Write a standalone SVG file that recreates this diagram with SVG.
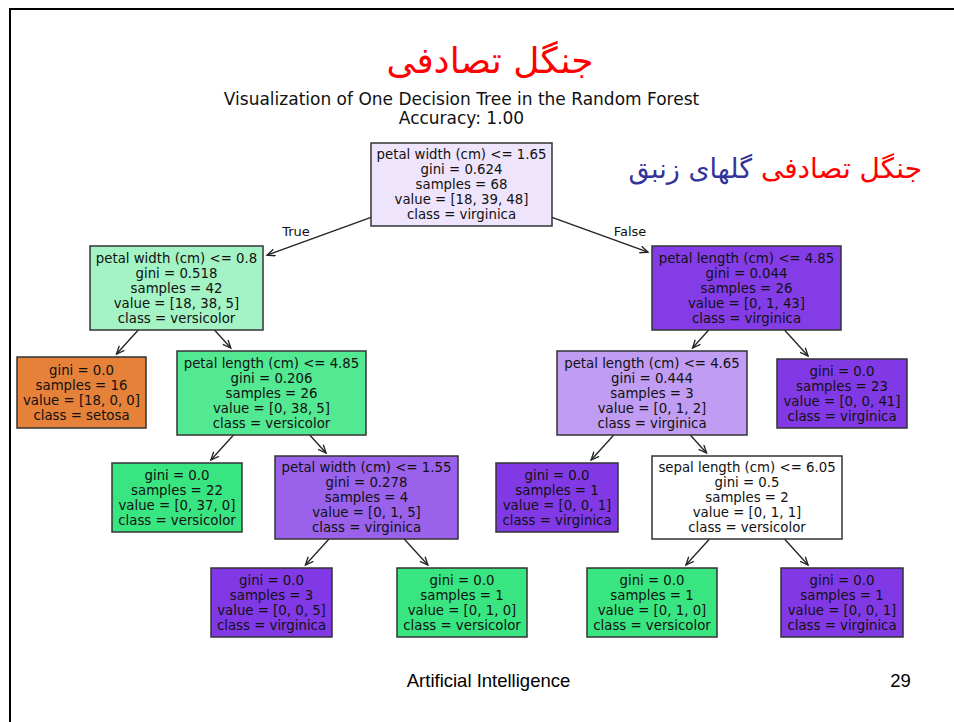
<svg xmlns="http://www.w3.org/2000/svg" width="954" height="722" viewBox="0 0 954 722">
<style>
.nt{font-family:"DejaVu Sans",sans-serif;font-size:13.3px;fill:#111;text-anchor:middle}
.box{stroke:#333;stroke-width:1.5}
.e{stroke:#222;stroke-width:1.3;fill:none}
.lbl{font-family:"DejaVu Sans",sans-serif;font-size:13px;fill:#111;text-anchor:middle}
.fa{font-family:"DejaVu Sans",sans-serif}
</style>
<defs>
<marker id="ah" markerUnits="userSpaceOnUse" markerWidth="12" markerHeight="10" refX="9" refY="4" orient="auto">
<path d="M1,0.5 L9,4 L1,7.5" fill="none" stroke="#222" stroke-width="1.3"/>
</marker>
</defs>
<rect width="954" height="722" fill="#fff"/>
<g id="frame">
<line x1="9" y1="9" x2="954" y2="9" stroke="#000" stroke-width="2"/>
<line x1="10" y1="8" x2="10" y2="722" stroke="#000" stroke-width="2"/>
</g>
<g id="titles">
<text x="490" y="73" class="fa" font-size="36" fill="#f00" text-anchor="middle" direction="rtl">جنگل تصادفی</text>
<text x="461.5" y="105" font-family="DejaVu Sans,sans-serif" font-size="17" fill="#111" text-anchor="middle">Visualization of One Decision Tree in the Random Forest</text>
<text x="461.5" y="124" font-family="DejaVu Sans,sans-serif" font-size="17" fill="#111" text-anchor="middle">Accuracy: 1.00</text>
<text x="922" y="178" class="fa" font-size="28" fill="#f00" text-anchor="start" direction="rtl">جنگل تصادفی</text>
<text x="752" y="178" class="fa" font-size="27" fill="#333399" text-anchor="start" direction="rtl">گلهای زنبق</text>
</g>
<g id="connectors">
<line class="e" x1="371" y1="217.4" x2="267" y2="255.2" marker-end="url(#ah)"/>
<line class="e" x1="552" y1="217.4" x2="648" y2="252.2" marker-end="url(#ah)"/>
<line class="e" x1="138.3" y1="330" x2="116.5" y2="354" marker-end="url(#ah)"/>
<line class="e" x1="214.5" y1="330" x2="230.8" y2="348" marker-end="url(#ah)"/>
<line class="e" x1="233.5" y1="435" x2="210.9" y2="460" marker-end="url(#ah)"/>
<line class="e" x1="309.7" y1="435" x2="326.1" y2="453" marker-end="url(#ah)"/>
<line class="e" x1="329" y1="539" x2="305.4" y2="565" marker-end="url(#ah)"/>
<line class="e" x1="404.2" y1="539" x2="427.9" y2="565" marker-end="url(#ah)"/>
<line class="e" x1="708.7" y1="330" x2="692.5" y2="348" marker-end="url(#ah)"/>
<line class="e" x1="784.5" y1="330" x2="808.1" y2="356" marker-end="url(#ah)"/>
<line class="e" x1="613.8" y1="435" x2="591.1" y2="460" marker-end="url(#ah)"/>
<line class="e" x1="690.2" y1="435" x2="706.6" y2="453" marker-end="url(#ah)"/>
<line class="e" x1="709.5" y1="539" x2="685.9" y2="565" marker-end="url(#ah)"/>
<line class="e" x1="784.5" y1="539" x2="808.1" y2="565" marker-end="url(#ah)"/>
<text class="lbl" x="296" y="236">True</text>
<text class="lbl" x="630" y="236">False</text>
</g>
<g id="n0">
<rect class="box" x="371" y="143" width="181" height="83" fill="#eee4fb"/>
<text class="nt" x="461.5" y="159">petal width (cm) &lt;= 1.65</text>
<text class="nt" x="461.5" y="174">gini = 0.624</text>
<text class="nt" x="461.5" y="189">samples = 68</text>
<text class="nt" x="461.5" y="204">value = [18, 39, 48]</text>
<text class="nt" x="461.5" y="219">class = virginica</text>
</g>
<g id="n1">
<rect class="box" x="90" y="246" width="173" height="84" fill="#a3f3c4"/>
<text class="nt" x="176.5" y="262.5">petal width (cm) &lt;= 0.8</text>
<text class="nt" x="176.5" y="277.5">gini = 0.518</text>
<text class="nt" x="176.5" y="292.5">samples = 42</text>
<text class="nt" x="176.5" y="307.5">value = [18, 38, 5]</text>
<text class="nt" x="176.5" y="322.5">class = versicolor</text>
</g>
<g id="n2">
<rect class="box" x="17" y="357" width="129" height="71" fill="#e58139"/>
<text class="nt" x="81.5" y="374.5">gini = 0.0</text>
<text class="nt" x="81.5" y="389.5">samples = 16</text>
<text class="nt" x="81.5" y="404.5">value = [18, 0, 0]</text>
<text class="nt" x="81.5" y="419.5">class = setosa</text>
</g>
<g id="n3">
<rect class="box" x="177" y="351" width="189" height="84" fill="#53e892"/>
<text class="nt" x="271.5" y="367.5">petal length (cm) &lt;= 4.85</text>
<text class="nt" x="271.5" y="382.5">gini = 0.206</text>
<text class="nt" x="271.5" y="397.5">samples = 26</text>
<text class="nt" x="271.5" y="412.5">value = [0, 38, 5]</text>
<text class="nt" x="271.5" y="427.5">class = versicolor</text>
</g>
<g id="n4">
<rect class="box" x="112" y="463" width="130" height="69" fill="#39e581"/>
<text class="nt" x="177" y="479.5">gini = 0.0</text>
<text class="nt" x="177" y="494.5">samples = 22</text>
<text class="nt" x="177" y="509.5">value = [0, 37, 0]</text>
<text class="nt" x="177" y="524.5">class = versicolor</text>
</g>
<g id="n5">
<rect class="box" x="275" y="456" width="183" height="83" fill="#9a61ea"/>
<text class="nt" x="366.5" y="472">petal width (cm) &lt;= 1.55</text>
<text class="nt" x="366.5" y="487">gini = 0.278</text>
<text class="nt" x="366.5" y="502">samples = 4</text>
<text class="nt" x="366.5" y="517">value = [0, 1, 5]</text>
<text class="nt" x="366.5" y="532">class = virginica</text>
</g>
<g id="n6">
<rect class="box" x="211" y="568" width="121" height="69" fill="#8139e5"/>
<text class="nt" x="271.5" y="584.5">gini = 0.0</text>
<text class="nt" x="271.5" y="599.5">samples = 3</text>
<text class="nt" x="271.5" y="614.5">value = [0, 0, 5]</text>
<text class="nt" x="271.5" y="629.5">class = virginica</text>
</g>
<g id="n7">
<rect class="box" x="397" y="568" width="130" height="69" fill="#39e581"/>
<text class="nt" x="462" y="584.5">gini = 0.0</text>
<text class="nt" x="462" y="599.5">samples = 1</text>
<text class="nt" x="462" y="614.5">value = [0, 1, 0]</text>
<text class="nt" x="462" y="629.5">class = versicolor</text>
</g>
<g id="n8">
<rect class="box" x="652" y="246" width="189" height="84" fill="#843de6"/>
<text class="nt" x="746.5" y="262.5">petal length (cm) &lt;= 4.85</text>
<text class="nt" x="746.5" y="277.5">gini = 0.044</text>
<text class="nt" x="746.5" y="292.5">samples = 26</text>
<text class="nt" x="746.5" y="307.5">value = [0, 1, 43]</text>
<text class="nt" x="746.5" y="322.5">class = virginica</text>
</g>
<g id="n9">
<rect class="box" x="557" y="351" width="190" height="84" fill="#c09cf2"/>
<text class="nt" x="652" y="367.5">petal length (cm) &lt;= 4.65</text>
<text class="nt" x="652" y="382.5">gini = 0.444</text>
<text class="nt" x="652" y="397.5">samples = 3</text>
<text class="nt" x="652" y="412.5">value = [0, 1, 2]</text>
<text class="nt" x="652" y="427.5">class = virginica</text>
</g>
<g id="n10">
<rect class="box" x="777" y="359" width="130" height="69" fill="#8139e5"/>
<text class="nt" x="842" y="375.5">gini = 0.0</text>
<text class="nt" x="842" y="390.5">samples = 23</text>
<text class="nt" x="842" y="405.5">value = [0, 0, 41]</text>
<text class="nt" x="842" y="420.5">class = virginica</text>
</g>
<g id="n11">
<rect class="box" x="496" y="463" width="122" height="69" fill="#8139e5"/>
<text class="nt" x="557" y="479.5">gini = 0.0</text>
<text class="nt" x="557" y="494.5">samples = 1</text>
<text class="nt" x="557" y="509.5">value = [0, 0, 1]</text>
<text class="nt" x="557" y="524.5">class = virginica</text>
</g>
<g id="n12">
<rect class="box" x="652" y="456" width="190" height="83" fill="#ffffff"/>
<text class="nt" x="747" y="472">sepal length (cm) &lt;= 6.05</text>
<text class="nt" x="747" y="487">gini = 0.5</text>
<text class="nt" x="747" y="502">samples = 2</text>
<text class="nt" x="747" y="517">value = [0, 1, 1]</text>
<text class="nt" x="747" y="532">class = versicolor</text>
</g>
<g id="n13">
<rect class="box" x="587" y="568" width="130" height="69" fill="#39e581"/>
<text class="nt" x="652" y="584.5">gini = 0.0</text>
<text class="nt" x="652" y="599.5">samples = 1</text>
<text class="nt" x="652" y="614.5">value = [0, 1, 0]</text>
<text class="nt" x="652" y="629.5">class = versicolor</text>
</g>
<g id="n14">
<rect class="box" x="781" y="568" width="122" height="69" fill="#8139e5"/>
<text class="nt" x="842" y="584.5">gini = 0.0</text>
<text class="nt" x="842" y="599.5">samples = 1</text>
<text class="nt" x="842" y="614.5">value = [0, 0, 1]</text>
<text class="nt" x="842" y="629.5">class = virginica</text>
</g>
<g id="footer">
<text x="488.5" y="687" font-family="Liberation Sans,Arial,sans-serif" font-size="18.5" fill="#000" text-anchor="middle">Artificial Intelligence</text>
<text x="900.5" y="687" font-family="Liberation Sans,Arial,sans-serif" font-size="18.5" fill="#000" text-anchor="middle">29</text>
</g>
</svg>
